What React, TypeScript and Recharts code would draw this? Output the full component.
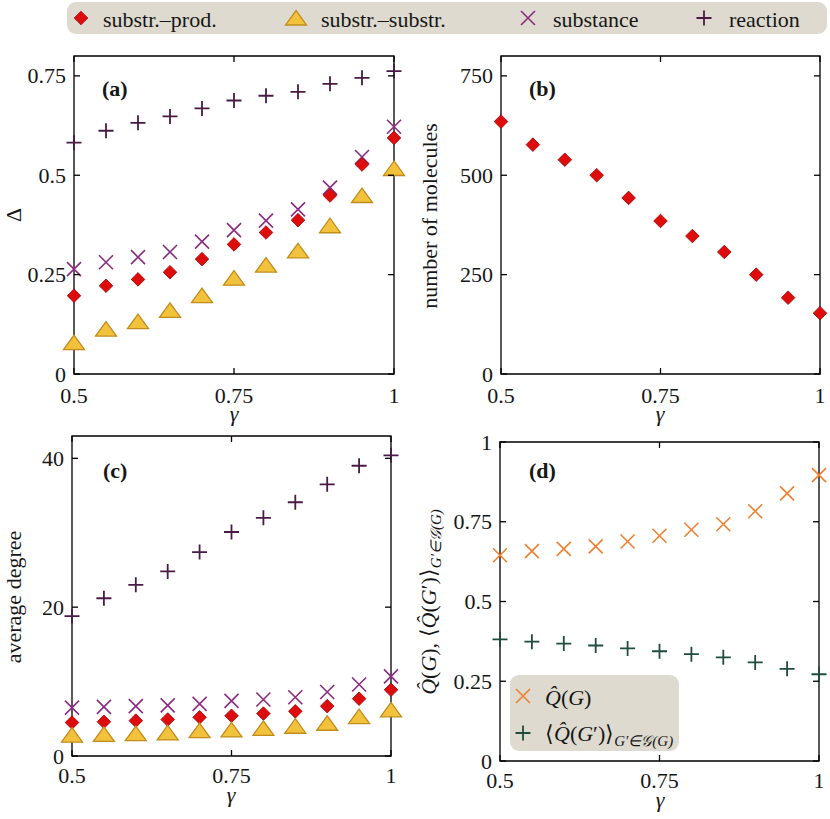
import { ScatterChart, Scatter, XAxis, YAxis, ReferenceArea } from 'recharts'

// gamma values shared by all four panels
const gammas = [0.5, 0.55, 0.6, 0.65, 0.7, 0.75, 0.8, 0.85, 0.9, 0.95, 1]

// (a) Delta
const deltaSubstrProd = [0.197, 0.222, 0.238, 0.256, 0.289, 0.326, 0.356, 0.387, 0.449, 0.527, 0.594]
const deltaSubstrSubstr = [0.079, 0.113, 0.132, 0.16, 0.197, 0.241, 0.274, 0.31, 0.373, 0.449, 0.517]
const deltaSubstance = [0.264, 0.281, 0.294, 0.307, 0.333, 0.362, 0.386, 0.414, 0.469, 0.546, 0.622]
const deltaReaction = [0.582, 0.612, 0.632, 0.648, 0.668, 0.688, 0.7, 0.71, 0.73, 0.745, 0.762]

// (b) number of molecules
const molecules = [635, 577, 539, 500, 443, 385, 347, 307, 250, 192, 153]

// (c) average degree
const degreeSubstrProd = [4.5, 4.6, 4.75, 4.9, 5.2, 5.4, 5.7, 6.0, 6.7, 7.7, 8.9]
const degreeSubstrSubstr = [2.8, 2.9, 3.0, 3.1, 3.4, 3.5, 3.7, 4.0, 4.4, 5.3, 6.2]
const degreeSubstance = [6.5, 6.6, 6.7, 6.8, 7.0, 7.4, 7.6, 7.9, 8.6, 9.6, 10.7]
const degreeReaction = [18.8, 21.2, 23.0, 24.8, 27.4, 30.1, 32.0, 34.1, 36.5, 39.0, 40.4]

// (d) modularity
const qHat = [0.645, 0.658, 0.665, 0.673, 0.688, 0.706, 0.725, 0.742, 0.783, 0.839, 0.896]
const qMean = [0.381, 0.374, 0.368, 0.362, 0.353, 0.344, 0.335, 0.325, 0.309, 0.289, 0.272]

const xTicks = [0.5, 0.75, 1]
const yTicksA = [0, 0.25, 0.5, 0.75]
const yTicksB = [0, 250, 500, 750]
const yTicksC = [0, 20, 40]
const yTicksD = [0, 0.25, 0.5, 0.75, 1]

const SERIF = "'Liberation Serif', serif"
const INK = '#161616'
const RED = '#dd0d0d'
const GOLD = '#f2c23c'
const PURPLE = '#8b2c80'
const PLUM = '#4a1a45'
const ORANGE = '#f0802f'
const GREEN = '#1f4d3c'
const LEGEND_BG = '#dedacf'

const txt = { fontFamily: SERIF, fontSize: 22, fill: INK }
const ital = { ...txt, fontStyle: 'italic' }
const bold = { ...txt, fontWeight: 'bold' }

const toPts = (ys: number[]) => gammas.map((x, i) => ({ x, y: ys[i] }))

// marker shapes
const diamondAt = (cx: number, cy: number) => {
  const r = 6.8
  return <path d={`M${cx},${cy - r}L${cx + r},${cy}L${cx},${cy + r}L${cx - r},${cy}Z`} fill={RED} stroke="#a30000" strokeWidth={0.8} />
}
const triangleAt = (cx: number, cy: number) => (
  <path d={`M${cx},${cy - 7.5}L${cx + 10.5},${cy + 7}L${cx - 10.5},${cy + 7}Z`} fill={GOLD} stroke="#c18d1c" strokeWidth={1.3} />
)
const crossAt = (cx: number, cy: number, color: string) => (
  <path d={`M${cx - 7},${cy - 7}L${cx + 7},${cy + 7}M${cx - 7},${cy + 7}L${cx + 7},${cy - 7}`} stroke={color} strokeWidth={1.6} fill="none" />
)
const plusAt = (cx: number, cy: number, color: string) => (
  <path d={`M${cx - 7.5},${cy}L${cx + 7.5},${cy}M${cx},${cy - 7.5}L${cx},${cy + 7.5}`} stroke={color} strokeWidth={1.8} fill="none" />
)

const Diamond = (p: any) => diamondAt(p.cx, p.cy)
const Triangle = (p: any) => triangleAt(p.cx, p.cy)
const SubstCross = (p: any) => crossAt(p.cx, p.cy, PURPLE)
const ReactPlus = (p: any) => plusAt(p.cx, p.cy, PLUM)
const OrangeCross = (p: any) => crossAt(p.cx, p.cy, ORANGE)
const GreenPlus = (p: any) => plusAt(p.cx, p.cy, GREEN)

const TICK = 6

function makeXTick(plotH: number, labelGap: number) {
  return (props: any) => {
    const { x, y, payload } = props
    return (
      <g>
        <line x1={x} x2={x} y1={y} y2={y - TICK} stroke="#000" strokeWidth={1.3} />
        <line x1={x} x2={x} y1={y - plotH} y2={y - plotH + TICK} stroke="#000" strokeWidth={1.3} />
        <text x={x} y={y + labelGap} textAnchor="middle" style={txt}>
          {String(payload.value)}
        </text>
      </g>
    )
  }
}

function makeYTick(plotW: number) {
  return (props: any) => {
    const { x, y, payload } = props
    return (
      <g>
        <line x1={x} x2={x + TICK} y1={y} y2={y} stroke="#000" strokeWidth={1.3} />
        <line x1={x + plotW} x2={x + plotW - TICK} y1={y} y2={y} stroke="#000" strokeWidth={1.3} />
        <text x={x - 8} y={y + 7.5} textAnchor="end" style={txt}>
          {String(payload.value)}
        </text>
      </g>
    )
  }
}

interface PanelProps {
  box: [number, number, number, number] // left, top, width, height on page
  plot: [number, number, number, number] // left, top, width, height on page
  yMax: number
  yTicks: number[]
  labelGap: number
  children: any
}

function Panel({ box, plot, yMax, yTicks, labelGap, children }: PanelProps) {
  const [bx, by, bw, bh] = box
  const [px, py, pw, ph] = plot
  return (
    <div style={{ position: 'absolute', left: bx, top: by }}>
      <ScatterChart
        width={bw}
        height={bh}
        margin={{ top: py - by, right: bx + bw - (px + pw), left: 0, bottom: 0 }}
      >
        <XAxis
          type="number"
          dataKey="x"
          domain={[0.5, 1]}
          ticks={xTicks}
          height={by + bh - (py + ph)}
          tickSize={0}
          tickMargin={0}
          axisLine={false}
          tickLine={false}
          tick={makeXTick(ph, labelGap)}
        />
        <YAxis
          type="number"
          dataKey="y"
          domain={[0, yMax]}
          ticks={yTicks}
          width={px - bx}
          tickSize={0}
          tickMargin={0}
          axisLine={false}
          tickLine={false}
          tick={makeYTick(pw)}
        />
        <ReferenceArea x1={0.5} x2={1} y1={0} y2={yMax} fill="none" stroke="#000" strokeWidth={1.3} fillOpacity={0} />
        {children}
      </ScatterChart>
    </div>
  )
}

export default function App() {
  return (
    <div style={{ position: 'absolute', left: 0, top: 0, width: 830, height: 819, background: '#fff', overflow: 'hidden' }}>
      <Panel box={[0, 36, 415, 390]} plot={[74, 56, 320, 318]} yMax={0.8} yTicks={yTicksA} labelGap={29}>
        <Scatter data={toPts(deltaSubstance)} shape={SubstCross} isAnimationActive={false} />
        <Scatter data={toPts(deltaSubstrProd)} shape={Diamond} isAnimationActive={false} />
        <Scatter data={toPts(deltaSubstrSubstr)} shape={Triangle} isAnimationActive={false} />
        <Scatter data={toPts(deltaReaction)} shape={ReactPlus} isAnimationActive={false} />
      </Panel>
      <Panel box={[415, 36, 415, 390]} plot={[501, 56, 319, 318]} yMax={800} yTicks={yTicksB} labelGap={29}>
        <Scatter data={toPts(molecules)} shape={Diamond} isAnimationActive={false} />
      </Panel>
      <Panel box={[0, 426, 415, 393]} plot={[72, 436, 319, 320]} yMax={43} yTicks={yTicksC} labelGap={27}>
        <Scatter data={toPts(degreeSubstance)} shape={SubstCross} isAnimationActive={false} />
        <Scatter data={toPts(degreeSubstrProd)} shape={Diamond} isAnimationActive={false} />
        <Scatter data={toPts(degreeSubstrSubstr)} shape={Triangle} isAnimationActive={false} />
        <Scatter data={toPts(degreeReaction)} shape={ReactPlus} isAnimationActive={false} />
      </Panel>
      <Panel box={[415, 426, 415, 393]} plot={[500, 442, 319, 319]} yMax={1} yTicks={yTicksD} labelGap={27}>
        <Scatter data={toPts(qHat)} shape={OrangeCross} isAnimationActive={false} />
        <Scatter data={toPts(qMean)} shape={GreenPlus} isAnimationActive={false} />
      </Panel>

      {/* titles, axis labels and legends */}
      <svg width={830} height={819} style={{ position: 'absolute', left: 0, top: 0, pointerEvents: 'none' }}>
        <rect x={67} y={2} width={760} height={32} rx={9} fill={LEGEND_BG} />
        {diamondAt(81, 18)}
        <text x={103} y={26.5} style={txt}>substr.–prod.</text>
        {triangleAt(296, 18)}
        <text x={321} y={26.5} style={txt}>substr.–substr.</text>
        {crossAt(528, 18, PURPLE)}
        <text x={553} y={26.5} style={txt}>substance</text>
        {plusAt(704, 18, PLUM)}
        <text x={729} y={26.5} style={txt}>reaction</text>

        <text x={102} y={96} style={bold}>(a)</text>
        <text x={529} y={96} style={bold}>(b)</text>
        <text x={103} y={478} style={bold}>(c)</text>
        <text x={529} y={478} style={bold}>(d)</text>

        <text x={234} y={421} textAnchor="middle" style={ital}>γ</text>
        <text x={660} y={421} textAnchor="middle" style={ital}>γ</text>
        <text x={231} y={802} textAnchor="middle" style={ital}>γ</text>
        <text x={660} y={807} textAnchor="middle" style={ital}>γ</text>

        <text transform="translate(21,215) rotate(-90)" textAnchor="middle" style={txt}>Δ</text>
        <text transform="translate(437,216) rotate(-90)" textAnchor="middle" style={txt}>number of molecules</text>
        <text transform="translate(21,597) rotate(-90)" textAnchor="middle" style={txt}>average degree</text>
        <text transform="translate(436,602) rotate(-90)" textAnchor="middle" style={txt}>
          <tspan fontStyle="italic">Q̂</tspan>(<tspan fontStyle="italic">G</tspan>), ⟨<tspan fontStyle="italic">Q̂</tspan>(<tspan fontStyle="italic">G</tspan>′)⟩
          <tspan fontSize={15} dy={5} fontStyle="italic">G′∈𝒢(G)</tspan>
        </text>

        <rect x={510} y={675} width={169} height={76} rx={9} fill={LEGEND_BG} />
        {crossAt(523, 696, ORANGE)}
        <text x={545} y={705} style={txt}>
          <tspan fontStyle="italic">Q̂</tspan>(<tspan fontStyle="italic">G</tspan>)
        </text>
        {plusAt(523, 733, GREEN)}
        <text x={545} y={741} style={txt}>
          ⟨<tspan fontStyle="italic">Q̂</tspan>(<tspan fontStyle="italic">G</tspan>′)⟩
          <tspan fontSize={15} dy={5} fontStyle="italic">G′∈𝒢(G)</tspan>
        </text>
      </svg>
    </div>
  )
}
